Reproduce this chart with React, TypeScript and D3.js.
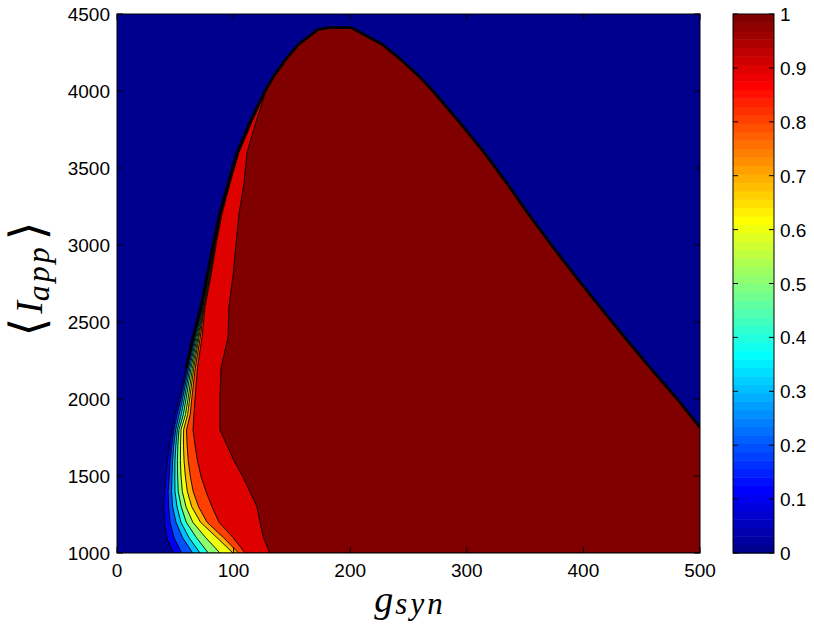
import React from 'react';
import * as d3 from 'd3';

// ---------- data ----------
// Rows of <I_app> at which contour boundaries were read
const I_ROWS = [1000, 1100, 1200, 1300, 1400, 1500, 1600, 1700, 1800, 1900, 2000, 2200, 2400, 2600, 2800, 3000, 3200, 3400, 3600, 3800, 4000, 4100, 4200, 4300, 4400, 4412];

// contour levels
const LEVELS = [0.1, 0.2, 0.3, 0.4, 0.5, 0.6, 0.7, 0.8, 0.9, 1.0];

// left boundary (g_syn) of region where value >= level, one value per I row
const LEFT_01 = [48.3, 42.6, 40.7, 40.3, 40.7, 42, 43.3, 45, 47.2, 49.7, 53.2, 59.2, 65.2, 72, 77.2, 82.3, 87.9, 95.2, 102.9, 114.1, 126.9, 134.6, 144.1, 155.2, 172.4, 182];
const LEFT_02 = [55.5, 48.9, 45.5, 44.3, 43.9, 44.8, 45.6, 47, 48.8, 51.5, 54.7, 60.3, 66, 72.4, 77.6, 82.6, 88.1, 95.4, 103.1, 114.3, 127, 134.7, 144.2, 155.3, 172.5, 182];
const LEFT_03 = [64.9, 56.2, 50.6, 47.7, 46.8, 47.2, 47.7, 48.7, 50.3, 53.3, 56.2, 61.3, 66.9, 72.8, 78, 82.9, 88.3, 95.6, 103.3, 114.5, 127.1, 134.8, 144.3, 155.4, 172.6, 182];
const LEFT_04 = [71.2, 61.7, 54.8, 51.5, 49.7, 49.6, 49.7, 50.5, 51.7, 55.1, 57.7, 62.4, 67.7, 73.2, 78.4, 83.2, 88.5, 95.8, 103.5, 114.7, 127.2, 134.9, 144.4, 155.5, 172.7, 182];
const LEFT_05 = [78.3, 68.1, 59.4, 55.1, 52.5, 52, 51.8, 52.2, 53.1, 56.9, 59.2, 63.5, 68.6, 73.6, 78.8, 83.5, 88.7, 96, 103.7, 114.9, 127.3, 135, 144.5, 155.6, 172.8, 182];
const LEFT_06 = [88.3, 76, 65, 59.2, 56, 54.9, 54.4, 54.5, 54.9, 58.8, 60.9, 64.7, 69.5, 74, 79.2, 83.8, 88.9, 96.2, 103.9, 115.1, 127.4, 135.1, 144.6, 155.7, 172.9, 182];
const LEFT_07 = [99.5, 85.7, 71.6, 64.1, 60.3, 58.6, 57.5, 57, 57.1, 60.6, 62.3, 65.8, 70.3, 74.4, 79.6, 84.1, 89.1, 96.4, 104.1, 115.3, 127.5, 135.2, 144.7, 155.8, 173, 182];
const LEFT_08 = [104.2, 91.3, 77.2, 70, 65.3, 62.8, 61.1, 60.1, 59.6, 62.8, 64.1, 67.1, 71.4, 74.8, 80, 84.4, 89.3, 96.6, 104.3, 115.5, 127.6, 135.3, 144.8, 155.9, 173.1, 182];
const LEFT_09 = [109.8, 99.5, 87.5, 81.5, 76.3, 72, 69, 66.9, 65.2, 66, 66.9, 69, 72.9, 75.5, 80.6, 84.9, 90, 96.9, 104.6, 115.8, 127.7, 135.4, 144.9, 156, 173.2, 182];
const LEFT_10 = [131, 125.6, 122.6, 120, 114, 107.6, 100.3, 94.3, 88.3, 88.3, 88.3, 89.2, 95.2, 96, 99.5, 102, 104.6, 108.9, 111.5, 119.2, 127.8, 135.5, 145, 156.1, 173.3, 182];

// right (upper) boundary where all levels drop to 0, one value per I row (values > 500 lie outside the axes)
const RIGHT_EDGE = [530, 530, 530, 530, 530, 530, 530, 530, 501.5, 491, 480.5, 457.5, 435.5, 414, 393, 372.5, 353, 334.5, 315, 293.5, 271, 258.5, 244, 228, 204, 200];

const X_TICKS = [0, 100, 200, 300, 400, 500];
const Y_TICKS = [1000, 1500, 2000, 2500, 3000, 3500, 4000, 4500];
const CB_TICKS = [0, 0.1, 0.2, 0.3, 0.4, 0.5, 0.6, 0.7, 0.8, 0.9, 1];
const CB_TICK_LABELS = ['0', '0.1', '0.2', '0.3', '0.4', '0.5', '0.6', '0.7', '0.8', '0.9', '1'];

const LEVEL_BOUNDS = [LEFT_01, LEFT_02, LEFT_03, LEFT_04, LEFT_05, LEFT_06, LEFT_07, LEFT_08, LEFT_09, LEFT_10];

// ---------- MATLAB jet(64) ----------
function jet(i: number): string {
  const u = (k: number) => (k < 1 || k > 47 ? 0 : k <= 16 ? k / 16 : k <= 31 ? 1 : (48 - k) / 16);
  return d3.rgb(Math.round(u(i - 24) * 255), Math.round(u(i - 8) * 255), Math.round(u(i + 8) * 255)).formatHex();
}
const levelColor = (v: number) => jet(Math.min(64, Math.floor(v * 64 + 1e-9) + 1));

const W = 814, H = 624;
const PL = 117, PR = 700, PT = 14, PB = 553;
const CBL = 733, CBR = 774;
const FONT = "'Liberation Sans', Arial, Helvetica, sans-serif";
const SERIF = "'Liberation Serif', 'Times New Roman', serif";
const BRK = "'DejaVu Serif', 'DejaVu Sans', serif";

export default function App() {
  const x = d3.scaleLinear().domain([0, 500]).range([PL, PR]);
  const y = d3.scaleLinear().domain([1000, 4500]).range([PB, PT]);
  const cb = d3.scaleLinear().domain([0, 1]).range([PB, PT]);
  const line = d3.line<[number, number]>().x(d => x(d[0])).y(d => y(d[1]));

  const polys = LEVEL_BOUNDS.map((left, k) => {
    const pts: [number, number][] = [
      ...I_ROWS.map((I, i) => [left[i], I] as [number, number]),
      ...I_ROWS.map((I, i) => [RIGHT_EDGE[i], I] as [number, number]).reverse(),
    ];
    return { d: line(pts) + 'Z', fill: levelColor(LEVELS[k]) };
  });

  const edgePts: [number, number][] = [
    ...I_ROWS.map((I, i) => [LEFT_01[i], I] as [number, number]).slice(11),
    ...I_ROWS.map((I, i) => [RIGHT_EDGE[i], I] as [number, number]).slice(8).reverse(),
  ];

  const stripes = d3.range(64).map(i => ({ y0: cb((i + 1) / 64), y1: cb(i / 64), c: jet(i + 1) }));
  const tl = 6;

  return (
    <svg width={W} height={H} style={{ position: 'absolute', left: 0, top: 0, background: '#fff' }}>
      <defs>
        <clipPath id="plotclip">
          <rect x={PL} y={PT} width={PR - PL} height={PB - PT} />
        </clipPath>
      </defs>
      <rect x={PL} y={PT} width={PR - PL} height={PB - PT} fill={jet(1)} />
      <g clipPath="url(#plotclip)">
        {polys.map((p, i) => (
          <path key={i} d={p.d} fill={p.fill} stroke="#000" strokeWidth={0.9} strokeLinejoin="round" />
        ))}
        <path d={line(edgePts) ?? ''} fill="none" stroke="#000" strokeWidth={2.8} strokeLinejoin="round" />
      </g>
      {/* axes box and ticks */}
      <rect x={PL} y={PT} width={PR - PL} height={PB - PT} fill="none" stroke="#000" strokeWidth={1} />
      {X_TICKS.map(t => (
        <g key={'x' + t}>
          <line x1={x(t)} x2={x(t)} y1={PB} y2={PB - tl} stroke="#000" />
          <line x1={x(t)} x2={x(t)} y1={PT} y2={PT + tl} stroke="#000" />
          <text x={x(t)} y={577} textAnchor="middle" fontFamily={FONT} fontSize={19}>{t}</text>
        </g>
      ))}
      {Y_TICKS.map(t => (
        <g key={'y' + t}>
          <line x1={PL} x2={PL + tl} y1={y(t)} y2={y(t)} stroke="#000" />
          <line x1={PR} x2={PR - tl} y1={y(t)} y2={y(t)} stroke="#000" />
          <text x={110} y={y(t) + 7} textAnchor="end" fontFamily={FONT} fontSize={19}>{t}</text>
        </g>
      ))}
      {/* colorbar */}
      {stripes.map((s, i) => (
        <rect key={i} x={CBL} y={s.y0} width={CBR - CBL} height={s.y1 - s.y0 + 0.5} fill={s.c} />
      ))}
      <rect x={CBL} y={PT} width={CBR - CBL} height={PB - PT} fill="none" stroke="#000" strokeWidth={1} />
      {CB_TICKS.map((t, i) => (
        <g key={'c' + t}>
          <line x1={CBL} x2={CBL + 5} y1={cb(t)} y2={cb(t)} stroke="#000" />
          <line x1={CBR} x2={CBR - 5} y1={cb(t)} y2={cb(t)} stroke="#000" />
          <text x={780} y={cb(t) + 7} textAnchor="start" fontFamily={FONT} fontSize={19}>{CB_TICK_LABELS[i]}</text>
        </g>
      ))}
      {/* axis labels */}
      <text x={410} y={612} textAnchor="middle" fontFamily={SERIF} fontStyle="italic" fontSize={38}>
        g<tspan fontSize={31} dy={2} dx={2} letterSpacing={3}>syn</tspan>
      </text>
      <text transform="translate(42,279) rotate(-90)" textAnchor="middle" fontFamily={SERIF} fontSize={38}>
        <tspan fontFamily={BRK} fontSize={48} dy={2}>⟨</tspan>
        <tspan fontStyle="italic" dy={-2} dx={4}>I</tspan>
        <tspan fontStyle="italic" fontSize={32} dy={7} letterSpacing={3}>app</tspan>
        <tspan fontFamily={BRK} fontSize={48} dy={-5} dx={4}>⟩</tspan>
      </text>
    </svg>
  );
}
